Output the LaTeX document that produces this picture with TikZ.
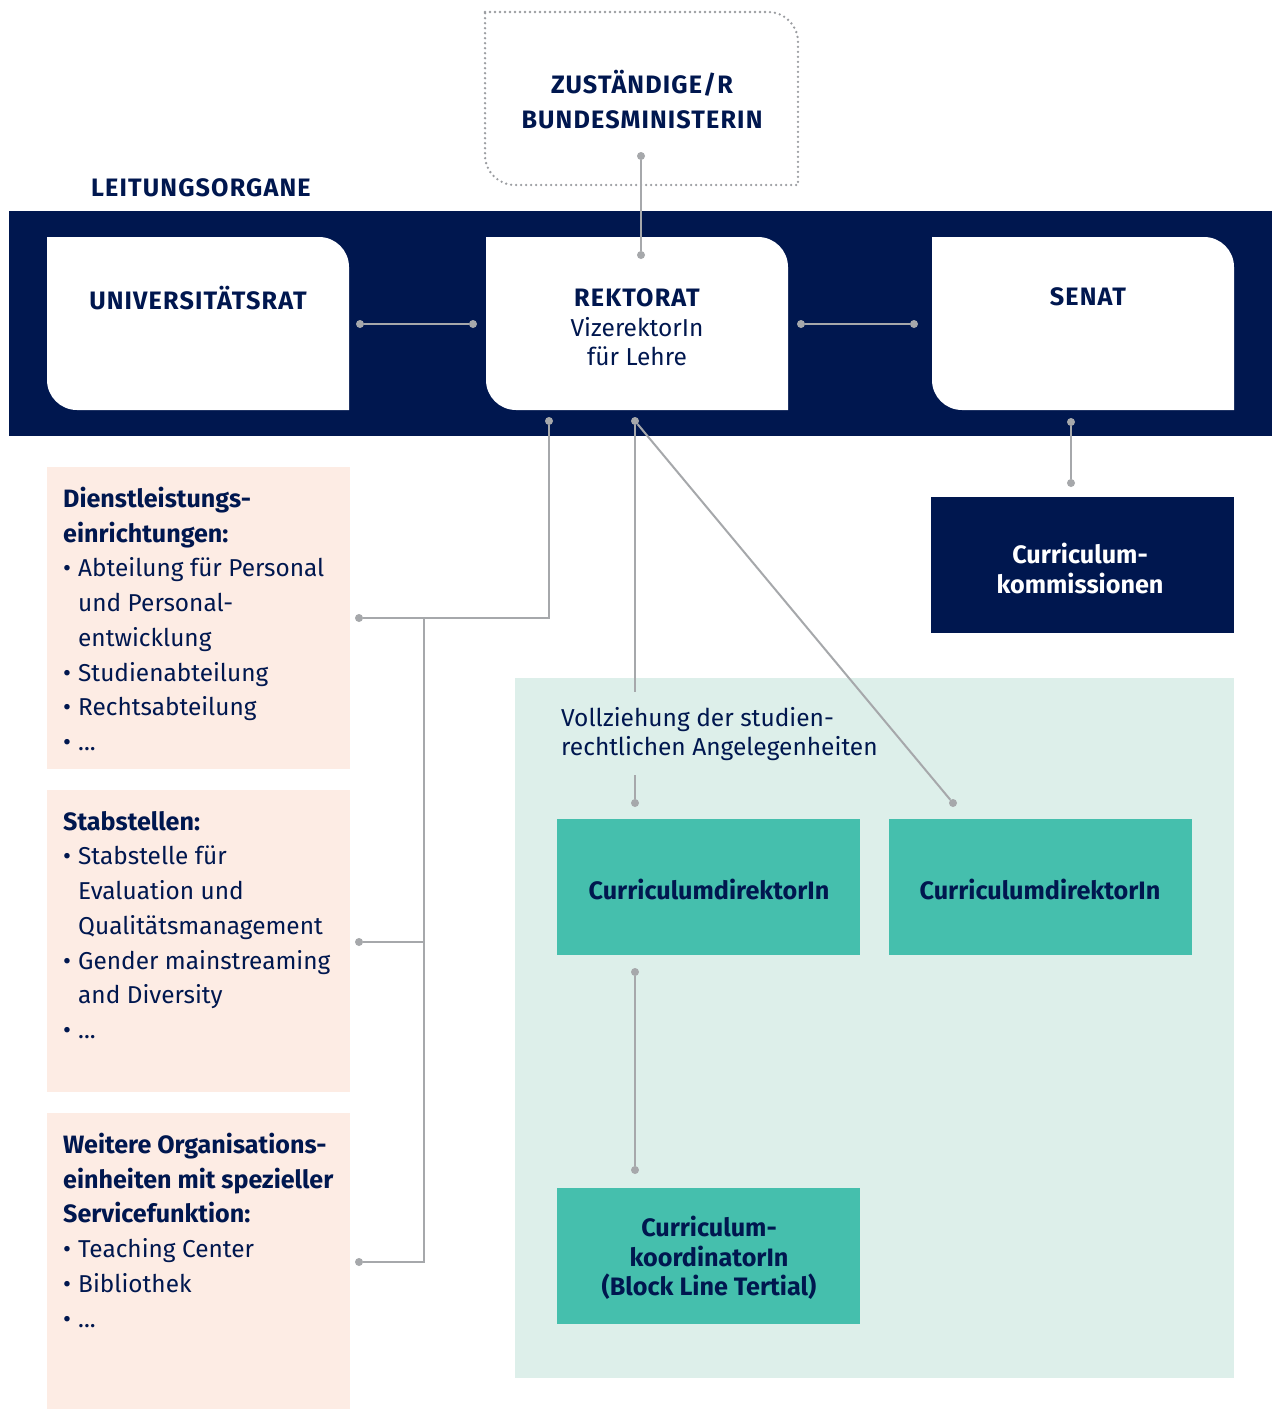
\documentclass[tikz,border=0pt]{standalone}
\usepackage{fontspec}
\setmainfont{Fira Sans}
\newfontfamily\capsfont{Fira Sans}[LetterSpace=4.5]
\definecolor{navy}{HTML}{00174F}
\definecolor{teal}{HTML}{45BFAD}
\definecolor{mint}{HTML}{DDEFEA}
\definecolor{pinkbg}{HTML}{FDECE4}
\definecolor{linegray}{HTML}{A6A8AB}
\definecolor{dotgray}{HTML}{9A9CA0}
\newcommand{\pbul}{\makebox[15pt][l]{\textbullet}}
\newcommand{\pind}{\hspace*{15pt}}
\newcommand{\phead}[1]{{\fontsize{25.1}{34.7}\selectfont\bfseries #1}}
\begin{document}
\begin{tikzpicture}[x=1pt,y=-1pt,
  dot/.style={circle, fill=linegray, inner sep=0pt, minimum size=8pt},
  conn/.style={draw=linegray, line width=2pt},
  txt/.style={text=navy, inner sep=0pt},
  capsfnt/.style={font=\fontsize{25.2}{35}\selectfont\capsfont\bfseries},
  headfont/.style={font=\fontsize{25.2}{29.5}\selectfont\bfseries},
  regfont/.style={font=\fontsize{24.5}{29}\selectfont},
  bodyfont/.style={font=\fontsize{24.4}{34.7}\selectfont},
  rect/.style={inner sep=0pt, anchor=north west, draw=none},
]
\useasboundingbox (0,0) rectangle (1273,1409);
\fill[white] (0,0) rectangle (1273,1409);

% dotted ministry box
\draw[dotgray, line width=2.6pt, dash pattern=on 0pt off 5pt, line cap=round]
  (485,12) -- (768,12) .. controls (784.6,12) and (798,25.4) .. (798,42)
  -- (798,185) -- (515,185) .. controls (498.4,185) and (485,171.6) .. (485,155) -- cycle;
\node[txt, capsfnt, align=center] (min) at (642,100) {ZUSTÄNDIGE/R\\BUNDESMINISTERIN};

\node[txt, capsfnt, anchor=west] (lo) at (91,188) {LEITUNGSORGANE};

% navy band
\node[rect, fill=navy, minimum width=1263, minimum height=225] (band) at (9,211) {};

% white boxes (rounded top-right and bottom-left)
\foreach \xa/\nm in {47/ur, 486/rk, 932/sn}{
  \pgfmathsetmacro{\xb}{\xa+302}
  \fill[white] (\xa,237) -- (\xb-30,237) .. controls (\xb-13.4,237) and (\xb,250.4) .. (\xb,267)
    -- (\xb,410) -- (\xa+30,410) .. controls (\xa+13.4,410) and (\xa,396.6) .. (\xa,380) -- cycle;
}
\node[txt, capsfnt] (urt) at (198,298) {UNIVERSITÄTSRAT};
\node[txt, capsfnt] (rkt) at (637,298) {REKTORAT};
\node[txt, regfont, align=center] (rks) at (637,341.5) {VizerektorIn\\für Lehre};
\node[txt, capsfnt] (snt) at (1088,297) {SENAT};

% curriculum commissions
\node[rect, fill=navy, minimum width=303, minimum height=136] (ck) at (931,497) {};
\node[text=white, inner sep=0pt, headfont, align=center] (ckt) at (1080,568.5) {Curriculum-\\kommissionen};

% mint area
\node[rect, fill=mint, minimum width=719, minimum height=700] (mint) at (515,678) {};
\node[txt, regfont, align=left, anchor=north west] (voll) at (561,707) {Vollziehung der studien-\\rechtlichen Angelegenheiten};

\node[rect, fill=teal, minimum width=303, minimum height=136] (cd1) at (557,819) {};
\node[rect, fill=teal, minimum width=303, minimum height=136] (cd2) at (889,819) {};
\node[rect, fill=teal, minimum width=303, minimum height=136] (ckk) at (557,1188) {};
\node[txt, headfont] (cd1t) at (709,889) {CurriculumdirektorIn};
\node[txt, headfont] (cd2t) at (1040,889) {CurriculumdirektorIn};
\node[txt, headfont, align=center] (ckkt) at (709,1258) {Curriculum-\\koordinatorIn\\(Block Line Tertial)};

% pink boxes
\node[rect, fill=pinkbg, minimum width=303, minimum height=302] (p1) at (47,467) {};
\node[rect, fill=pinkbg, minimum width=303, minimum height=302] (p2) at (47,790) {};
\node[rect, fill=pinkbg, minimum width=303, minimum height=296] (p3) at (47,1113) {};

\node[txt, bodyfont, align=left, anchor=north west] (p1t) at (63,487)
 {\phead{Dienstleistungs-}\\\phead{einrichtungen:}\\\pbul Abteilung für Personal\\\pind und Personal-\\\pind entwicklung\\\pbul Studienabteilung\\\pbul Rechtsabteilung\\\pbul ...};
\node[txt, bodyfont, align=left, anchor=north west] (p2t) at (63,811)
 {\phead{Stabstellen:}\\\pbul Stabstelle für\\\pind Evaluation und\\\pind Qualitätsmanagement\\\pbul Gender mainstreaming\\\pind and Diversity\\\pbul ...};
\node[txt, bodyfont, align=left, anchor=north west] (p3t) at (63,1133)
 {\phead{Weitere Organisations-}\\\phead{einheiten mit spezieller}\\\phead{Servicefunktion:}\\\pbul Teaching Center\\\pbul Bibliothek\\\pbul ...};

% dots
\node[dot] (dmin) at (641,156) {};
\node[dot] (drkt) at (641,255) {};
\node[dot] (dur) at (360,324) {};
\node[dot] (drkl) at (473,324) {};
\node[dot] (drkr) at (801,324) {};
\node[dot] (dsnl) at (914,324) {};
\node[dot] (drb1) at (549,421) {};
\node[dot] (drb2) at (635,421) {};
\node[dot] (dsnb) at (1071,422) {};
\node[dot] (dck) at (1071,483) {};
\node[dot] (dp1) at (359,618) {};
\node[dot] (dp2) at (359,942) {};
\node[dot] (dp3) at (359,1262) {};
\node[dot] (dv) at (635,803) {};
\node[dot] (dd) at (953,803) {};
\node[dot] (dcd) at (635,972) {};
\node[dot] (dckk) at (635,1170) {};
\coordinate (j1) at (424,618);
\coordinate (j2) at (424,942);
\coordinate (j3) at (424,1262);
\coordinate (v1) at (635,692);
\coordinate (v2) at (635,775);

% connectors
\draw[conn] (dmin) -- (drkt);
\draw[conn] (dur) -- (drkl);
\draw[conn] (drkr) -- (dsnl);
\draw[conn] (dsnb) -- (dck);
\draw[conn] (drb1) |- (dp1);
\draw[conn] (j1) -- (j3) -- (dp3);
\draw[conn] (j2) -- (dp2);
\draw[conn] (drb2) -- (v1);
\draw[conn] (v2) -- (dv);
\draw[conn] (drb2) -- (dd);
\draw[conn] (dcd) -- (dckk);
\end{tikzpicture}
\end{document}
